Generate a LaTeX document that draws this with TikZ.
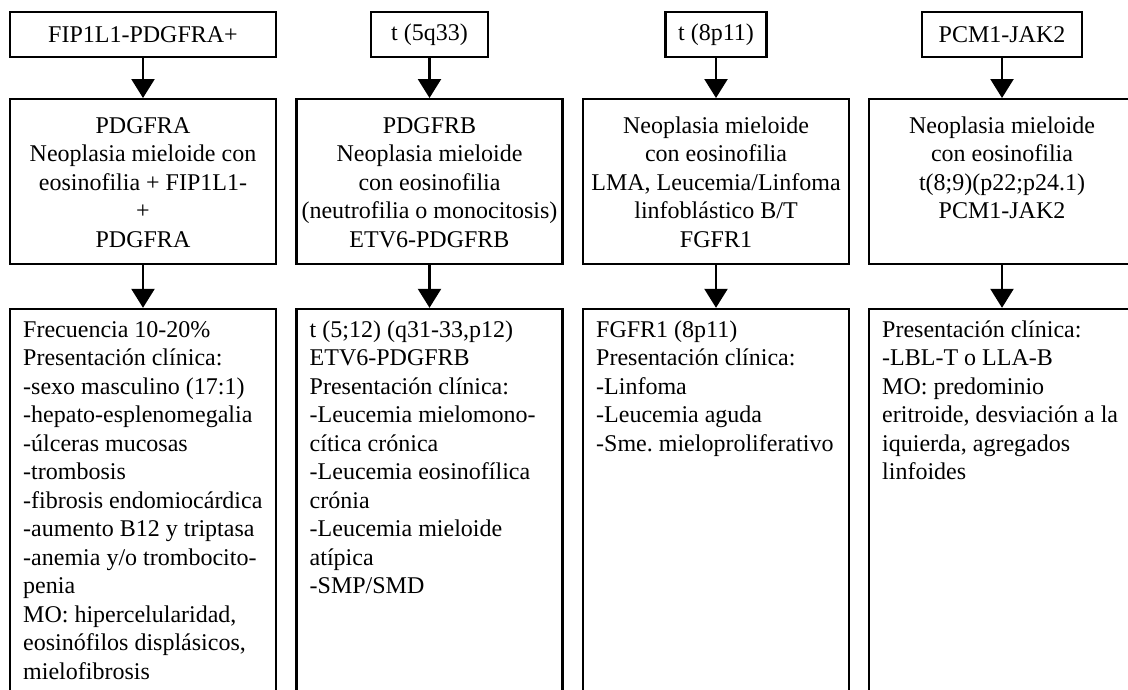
\documentclass[tikz,border=0pt]{standalone}
\usepackage{fontspec}
\setmainfont{Liberation Serif}
\usetikzlibrary{arrows.meta}
\frenchspacing
\begin{document}
\begin{tikzpicture}[x=1pt,y=-1pt,
  box/.style={draw,line width=2.4pt,inner sep=0pt},
  topbox/.style={box,minimum height=44.6pt,font=\fontsize{24}{28.5}\selectfont},
  midbox/.style={box,minimum width=265.8pt,minimum height=164.6pt},
  lowbox/.style={box,minimum width=265.8pt,minimum height=410pt},
  midtxt/.style={anchor=north,inner sep=0pt,align=center,font=\fontsize{24}{28.5}\selectfont},
  lowtxt/.style={anchor=north west,inner sep=0pt,align=left,font=\fontsize{24}{28.5}\selectfont},
  arr/.style={line width=2.4pt,-{Triangle[width=23pt,length=19pt]}}]
\useasboundingbox (0,0) rectangle (1128,689);

% top boxes
\node[topbox,minimum width=265.8pt] (t1) at (143,34.5) {FIP1L1-PDGFRA+};
\node[topbox,minimum width=117pt] (t2) at (429.5,34.5) {t (5q33)};
\node[topbox,minimum width=101pt] (t3) at (716,34.5) {t (8p11)};
\node[topbox,minimum width=160pt] (t4) at (1002,34.5) {PCM1-JAK2};

% middle boxes
\node[midbox] (m1) at (143,181.5) {};
\node[midbox] (m2) at (429.5,181.5) {};
\node[midbox] (m3) at (716,181.5) {};
\node[midbox] (m4) at (1002,181.5) {};

\node[midtxt] (mt1) at (143,113) {\strut PDGFRA\\Neoplasia mieloide con\\eosinofilia + FIP1L1-\\+\\PDGFRA};
\node[midtxt] (mt2) at (429.5,113) {\strut PDGFRB\\Neoplasia mieloide\\con eosinofilia\\(neutrofilia o monocitosis)\\ETV6-PDGFRB};
\node[midtxt] (mt3) at (716,113) {\strut Neoplasia mieloide\\con eosinofilia\\LMA, Leucemia/Linfoma\\linfoblástico B/T\\FGFR1};
\node[midtxt] (mt4) at (1002,113) {\strut Neoplasia mieloide\\con eosinofilia\\t(8;9)(p22;p24.1)\\PCM1-JAK2};

% bottom boxes
\node[lowbox] (b1) at (143,514) {};
\node[lowbox] (b2) at (429.5,514) {};
\node[lowbox] (b3) at (716,514) {};
\node[lowbox] (b4) at (1002,514) {};

\node[lowtxt] (bt1) at (23,317) {\strut Frecuencia 10-20\%\\Presentación clínica:\\-sexo masculino (17:1)\\-hepato-esplenomegalia\\-úlceras mucosas\\-trombosis\\-fibrosis endomiocárdica\\-aumento B12 y triptasa\\-anemia y/o trombocito-\\penia\\MO: hipercelularidad,\\eosinófilos displásicos,\\mielofibrosis};
\node[lowtxt] (bt2) at (309.5,317) {\strut t (5;12) (q31-33,p12)\\ETV6-PDGFRB\\Presentación clínica:\\-Leucemia mielomono-\\cítica crónica\\-Leucemia eosinofílica\\crónia\\-Leucemia mieloide\\atípica\\-SMP/SMD};
\node[lowtxt] (bt3) at (596,317) {\strut FGFR1 (8p11)\\Presentación clínica:\\-Linfoma\\-Leucemia aguda\\-Sme. mieloproliferativo};
\node[lowtxt] (bt4) at (882,317) {\strut Presentación clínica:\\-LBL-T o LLA-B\\MO: predominio\\eritroide, desviación a la\\iquierda, agregados\\linfoides};

% arrows
\draw[arr] (t1) -- (m1);
\draw[arr] (t2) -- (m2);
\draw[arr] (t3) -- (m3);
\draw[arr] (t4) -- (m4);
\draw[arr] (m1) -- (b1);
\draw[arr] (m2) -- (b2);
\draw[arr] (m3) -- (b3);
\draw[arr] (m4) -- (b4);
\end{tikzpicture}
\end{document}
